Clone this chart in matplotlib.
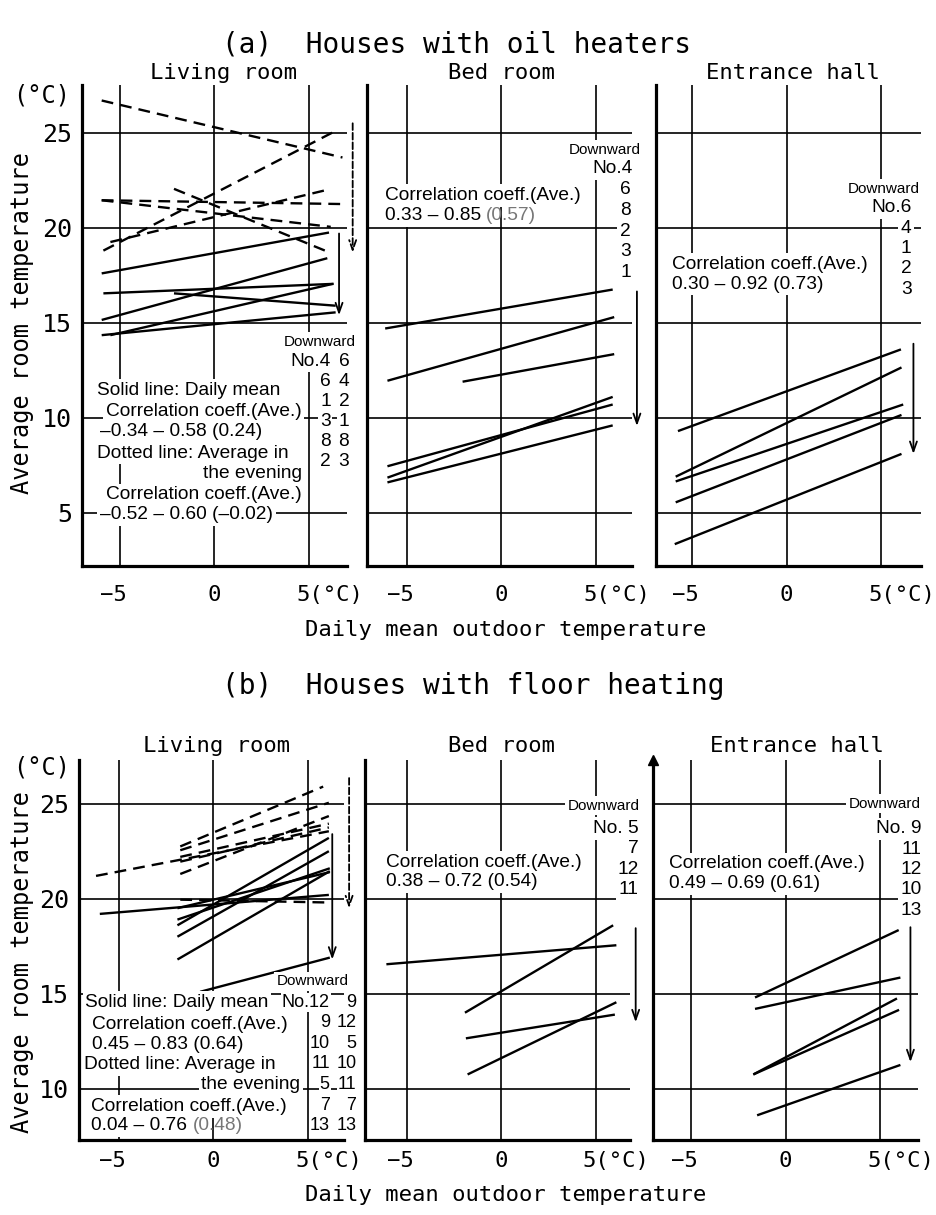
import matplotlib.pyplot as plt
from matplotlib import font_manager

# regression lines: (x start, y start, x end, y end)
a_liv_solid = [(-5.96, 17.6, 6.05, 19.75), (-5.87, 16.55, 6.3, 17.05),
               (-2.14, 16.55, 6.4, 15.9), (-5.96, 15.15, 5.96, 18.4),
               (-5.5, 14.35, 6.25, 17.05), (-5.96, 14.35, 6.4, 15.55)]
a_liv_dotted = [(-5.96, 26.7, 6.76, 23.7), (-5.87, 18.8, 6.4, 25.1),
                (-5.5, 19.25, 5.96, 22.0), (-5.96, 21.45, 6.14, 20.05),
                (-5.96, 21.45, 6.76, 21.25), (-2.14, 22.05, 5.96, 18.75)]
a_bed = [(-6.14, 14.7, 5.88, 16.75), (-6.02, 11.95, 5.96, 15.3),
         (-2.05, 11.9, 5.96, 13.35), (-6.02, 7.45, 5.88, 10.7),
         (-6.02, 6.85, 5.88, 11.1), (-6.02, 6.6, 5.88, 9.6)]
a_hall = [(-5.74, 9.3, 6.04, 13.6), (-5.86, 6.9, 6.07, 12.65),
          (-5.86, 6.65, 6.16, 10.7), (-5.86, 5.55, 6.07, 10.15),
          (-5.91, 3.35, 6.07, 8.1)]

b_liv_solid = [(-6.0, 19.2, 6.1, 20.2), (-1.9, 18.6, 6.1, 23.2),
               (-1.9, 18.0, 6.1, 22.5), (-1.9, 18.9, 6.15, 21.6),
               (-1.9, 16.8, 6.15, 21.45), (-1.9, 19.5, 6.15, 21.4),
               (-0.7, 15.1, 6.15, 16.9)]
b_liv_dotted = [(-6.2, 21.2, 6.1, 23.55), (-1.75, 22.75, 5.8, 25.9),
                (-1.75, 22.55, 6.1, 25.05), (-1.75, 22.2, 6.1, 23.95),
                (-1.75, 21.95, 6.1, 23.75), (-1.75, 21.3, 6.1, 24.35),
                (-1.75, 19.95, 6.1, 19.8)]
b_bed = [(-6.07, 16.55, 6.08, 17.55), (-1.92, 14.0, 5.91, 18.6),
         (-1.87, 12.65, 6.0, 13.9), (-1.78, 10.75, 6.08, 14.55)]
b_hall = [(-1.61, 14.8, 5.98, 18.35), (-1.61, 14.2, 6.07, 15.85),
          (-1.7, 10.75, 5.89, 14.75), (-1.7, 10.75, 6.0, 14.15),
          (-1.5, 8.6, 6.07, 11.25)]

# house numbers, top to bottom at the right-hand end
a_liv_order = [("4", "6"), ("6", "4"), ("1", "2"), ("3", "1"), ("8", "8"), ("2", "3")]
a_bed_order = ["4", "6", "8", "2", "3", "1"]
a_hall_order = ["6", "4", "1", "2", "3"]
b_liv_order = [("12", "9"), ("9", "12"), ("10", "5"), ("11", "10"), ("5", "11"), ("7", "7"), ("13", "13")]
b_bed_order = ["5", "7", "12", "11"]
b_hall_order = ["9", "11", "12", "10", "13"]

W, H = 937, 1215
fig = plt.figure(figsize=(W / 100, H / 100), dpi=100)

MONO = 'DejaVu Sans Mono'
names = {f.name for f in font_manager.fontManager.ttflist}
# annotation font: narrowest sans available, sized to the scan's text widths
if 'Liberation Sans Narrow' in names:
    NARROW, NS, DS, NUM = 'Liberation Sans Narrow', 15.5, 13, 14.5
elif 'Liberation Sans' in names:
    NARROW, NS, DS, NUM = 'Liberation Sans', 13.8, 11, 13
else:
    NARROW, NS, DS, NUM = 'DejaVu Sans', 12, 10.2, 11


def make_axes(left, top, bottom, xlim, ylim, grid_y, lab_off):
    ax = fig.add_axes([left / W, 1 - bottom / H, 265 / W, (bottom - top) / H])
    ax.set_xlim(*xlim)
    ax.set_ylim(*ylim)
    for s in ['top', 'right']:
        ax.spines[s].set_visible(False)
    for s in ['left', 'bottom']:
        ax.spines[s].set_linewidth(2.3)
    ax.set_xticks([])
    ax.set_yticks([])
    for y in grid_y:
        ax.axhline(y, color='k', lw=1.2, zorder=1)
    for x in [-5, 0, 5]:
        ax.axvline(x, color='k', lw=1.2, zorder=1)
    for v, s, ha, dx in [(-5, '\u22125', 'right', 5.0), (0, '0', 'center', 0),
                         (5, '5(\u00b0C)', 'left', -9.4)]:
        ax.annotate(s, xy=(v, 0), xycoords=('data', 'axes fraction'), xytext=(dx, lab_off),
                    textcoords='offset points', ha=ha, va='center', fontsize=16,
                    family=MONO, annotation_clip=False)
    return ax


def draw_lines(ax, segs, dashed=False):
    for x0, y0, x1, y1 in segs:
        ax.plot([x0, x1], [y0, y1], color='k', lw=1.7, zorder=3,
                dashes=(5, 3) if dashed else (None, None), solid_capstyle='butt')


def note(ax, x, y, s, ha='left', color='k', size=None, pad=2.0):
    return ax.text(x, y, s, ha=ha, va='center', family=NARROW, fontsize=size or NS,
                   color=color, zorder=5, clip_on=False,
                   bbox=dict(facecolor='white', edgecolor='none', pad=pad))


def note_gray(ax, x, y, s1, s2):
    t = note(ax, x, y, s1)
    ax.annotate(s2, xy=(1, 0), xycoords=t, ha='left', va='bottom', family=NARROW,
                fontsize=NS, color='#777777', zorder=6)


def arrow(ax, x, y0, y1, dashed=False):
    ax.annotate('', xy=(x, y1), xytext=(x, y0), annotation_clip=False,
                arrowprops=dict(arrowstyle='->,head_length=0.7,head_width=0.25', lw=1.3,
                                color='k', ls='--' if dashed else '-', shrinkA=0, shrinkB=0))


def living_labels(ax, top_px, ylab_center):
    ax.set_yticks([t for t in [5, 10, 15, 20, 25] if t > ax.get_ylim()[0]])
    ax.set_yticklabels([str(t) for t in ax.get_yticks()], family=MONO, fontsize=18)
    ax.tick_params(axis='y', length=0, pad=7)
    fig.text(42 / W, 1 - (top_px + 10) / H, '(\u00b0C)', family=MONO, fontsize=17,
             ha='center', va='center')
    fig.text(22 / W, 1 - ylab_center / H, 'Average room temperature', rotation=90,
             family=MONO, fontsize=17, ha='center', va='center')


# ---------------- (a) houses with oil heaters ----------------
fig.text(222 / W, 1 - 45 / H, '(a)  Houses with oil heaters', family=MONO, fontsize=20,
         ha='left', va='center')
ga = [5, 10, 15, 20, 25]
ax1 = make_axes(82, 85.3, 566, (-7.0, 7.0), (2.2, 27.5), ga, -21)
ax2 = make_axes(367, 85.3, 566, (-7.1, 6.9), (2.2, 27.5), ga, -21)
ax3 = make_axes(656, 85.3, 566, (-6.9, 7.1), (2.2, 27.5), ga, -21)
for ax, name, xc in [(ax1, 'Living room', 224), (ax2, 'Bed room', 502), (ax3, 'Entrance hall', 793)]:
    fig.text(xc / W, 1 - 73 / H, name, family=MONO, fontsize=16, ha='center', va='center')
living_labels(ax1, 85, 323)
fig.text(506 / W, 1 - 630 / H, 'Daily mean outdoor temperature', family=MONO, fontsize=16,
         ha='center', va='center')

draw_lines(ax1, a_liv_dotted, dashed=True)
draw_lines(ax1, a_liv_solid)
arrow(ax1, 7.3, 25.5, 18.7, dashed=True)
arrow(ax1, 6.58, 19.7, 15.4)
note(ax1, 7.47, 14.0, 'Downward', ha='right', size=DS)
for i, (c1, c2) in enumerate(a_liv_order):
    y = 12.95 - 1.05 * i
    note(ax1, 6.14, y, ('No.' if i == 0 else '') + c1, ha='right', pad=1.2)
    note(ax1, 7.12, y, c2, ha='right', pad=1.2)
note(ax1, -6.23, 11.46, 'Solid line: Daily mean')
note(ax1, -5.73, 10.32, 'Correlation coeff.(Ave.)')
note(ax1, -6.05, 9.27, '\u20130.34 \u2013 0.58 (0.24)')
note(ax1, -6.23, 8.14, 'Dotted line: Average in')
note(ax1, 4.63, 7.08, 'the evening', ha='right')
note(ax1, -5.73, 5.95, 'Correlation coeff.(Ave.)')
note(ax1, -6.05, 4.9, '\u20130.52 \u2013 0.60 (\u20130.02)')

draw_lines(ax2, a_bed)
arrow(ax2, 7.16, 16.65, 9.57)
note(ax2, -6.16, 21.7, 'Correlation coeff.(Ave.)')
note_gray(ax2, -6.16, 20.65, '0.33 \u2013 0.85 ', '(0.57)')
note(ax2, 7.37, 24.1, 'Downward', ha='right', size=DS)
for i, c in enumerate(a_bed_order):
    note(ax2, 6.95 if i == 0 else 6.84, 23.1 - 1.09 * i, ('No.' if i == 0 else '') + c, ha='right')

draw_lines(ax3, a_hall)
arrow(ax3, 6.7, 13.9, 8.1)
note(ax3, -6.04, 18.09, 'Correlation coeff.(Ave.)')
note(ax3, -6.04, 17.04, '0.30 \u2013 0.92 (0.73)')
note(ax3, 7.05, 22.05, 'Downward', ha='right', size=DS)
for i, c in enumerate(a_hall_order):
    note(ax3, 6.6, 21.05 - 1.07 * i, ('No.' if i == 0 else '') + c, ha='right')

# ---------------- (b) houses with floor heating ----------------
fig.text(222 / W, 1 - 686 / H, '(b)  Houses with floor heating', family=MONO, fontsize=20,
         ha='left', va='center')
gb = [10, 15, 20, 25]
bx1 = make_axes(79, 760, 1140, (-7.1, 6.9), (7.3, 27.3), gb, -15)
bx2 = make_axes(365, 760, 1140, (-7.2, 6.8), (7.3, 27.3), gb, -15)
bx3 = make_axes(653, 760, 1140, (-7.0, 7.0), (7.3, 27.3), gb, -15)
for ax, name, xc in [(bx1, 'Living room', 217), (bx2, 'Bed room', 502), (bx3, 'Entrance hall', 797)]:
    fig.text(xc / W, 1 - 746 / H, name, family=MONO, fontsize=16, ha='center', va='center')
living_labels(bx1, 758, 962)
fig.text(506 / W, 1 - 1195 / H, 'Daily mean outdoor temperature', family=MONO, fontsize=16,
         ha='center', va='center')
bx3.plot(0, 1, marker='^', ms=7, color='k', transform=bx3.transAxes, clip_on=False)

draw_lines(bx1, b_liv_dotted, dashed=True)
draw_lines(bx1, b_liv_solid)
arrow(bx1, 7.17, 26.35, 19.5, dashed=True)
arrow(bx1, 6.28, 23.4, 16.8)
note(bx1, 7.17, 15.65, 'Downward', ha='right', size=DS)
for i, (c1, c2) in enumerate(b_liv_order):
    y = 14.54 - 1.08 * i
    note(bx1, 6.15, y, ('No.' if i == 0 else '') + c1, ha='right', size=NUM, pad=0.8)
    note(bx1, 7.55, y, c2, ha='right', size=NUM, pad=0.8)
note(bx1, -6.76, 14.54, 'Solid line: Daily mean')
note(bx1, -6.41, 13.37, 'Correlation coeff.(Ave.)')
note(bx1, -6.41, 12.32, '0.45 \u2013 0.83 (0.64)')
note(bx1, -6.81, 11.26, 'Dotted line: Average in')
note(bx1, 4.6, 10.21, 'the evening', ha='right')
note(bx1, -6.46, 9.07, 'Correlation coeff.(Ave.)')
note_gray(bx1, -6.46, 8.05, '0.04 \u2013 0.76 ', '(0.48)')

draw_lines(bx2, b_bed)
arrow(bx2, 7.1, 18.45, 13.5)
note(bx2, -6.07, 21.93, 'Correlation coeff.(Ave.)')
note(bx2, -6.07, 20.88, '0.38 \u2013 0.72 (0.54)')
note(bx2, 7.3, 24.9, 'Downward', ha='right', size=DS)
for i, c in enumerate(b_bed_order):
    note(bx2, 7.25, 23.7 - 1.07 * i, ('No. ' if i == 0 else '') + c, ha='right')

draw_lines(bx3, b_hall)
arrow(bx3, 6.6, 18.5, 11.4)
note(bx3, -6.16, 21.84, 'Correlation coeff.(Ave.)')
note(bx3, -6.16, 20.78, '0.49 \u2013 0.69 (0.61)')
note(bx3, 7.14, 25.0, 'Downward', ha='right', size=DS)
for i, c in enumerate(b_hall_order):
    note(bx3, 7.2, 23.68 - 1.07 * i, ('No. ' if i == 0 else '') + c, ha='right')

fig.savefig('out.png', dpi=100, facecolor='white')
